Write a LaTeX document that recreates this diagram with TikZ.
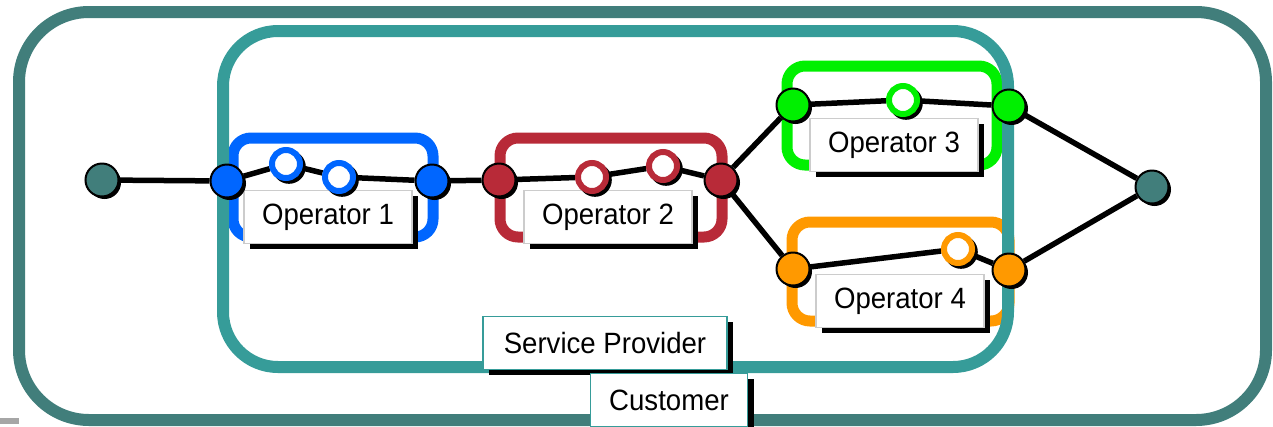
\documentclass[tikz,border=0pt]{standalone}
\usepackage{fontspec}
\setmainfont{Liberation Sans}[FakeStretch=0.94]
\usetikzlibrary{shadows}
\definecolor{custteal}{RGB}{65,126,123}
\definecolor{provteal}{RGB}{54,156,153}
\definecolor{opblue}{RGB}{0,102,255}
\definecolor{opred}{RGB}{184,42,56}
\definecolor{opgreen}{RGB}{0,240,0}
\definecolor{oporange}{RGB}{255,153,0}
\pgfdeclarelayer{boxes}
\pgfdeclarelayer{wires}
\pgfsetlayers{boxes,wires,main}

\begin{document}
\begin{tikzpicture}[x=0.2mm,y=-0.2mm,
	hop/.style={circle,draw=black,line width=0.4mm,fill=#1,minimum size=6.6mm,inner sep=0pt,drop shadow={fill=black,opacity=1,shadow xshift=0.5mm,shadow yshift=-0.5mm}},
	ring/.style={circle,draw=#1,line width=1.2mm,fill=white,minimum size=5.6mm,inner sep=0pt,drop shadow={fill=black,opacity=1,shadow xshift=0.5mm,shadow yshift=-0.5mm,shadow scale=1.2}},
	opbox/.style={draw=#1,line width=2.2mm,rounded corners=3.6mm},
	tag/.style={rectangle,draw=gray!40,line width=0.25mm,fill=white,minimum width=33.6mm,minimum height=10.6mm,inner sep=0pt,font=\fontsize{16.7}{20}\selectfont,drop shadow={fill=black,opacity=1,shadow xshift=1.2mm,shadow yshift=-1mm}},
	wire/.style={draw=black,line width=1.1mm}]
	\useasboundingbox (0,0) rectangle (1273,426);
	\begin{pgfonlayer}{boxes}
	\fill[gray!70] (0,418) rectangle (19,424);
	\draw[custteal,line width=2.4mm,rounded corners=14mm] (19,12) rectangle (1266,420);
	\draw[opbox=opblue] (233,138) rectangle (433,237);
	\draw[opbox=opred] (500,138) rectangle (722,237);
	\draw[opbox=opgreen] (787,66) rectangle (997,165);
	\draw[opbox=oporange] (792,222) rectangle (1009,321);
	\draw[provteal,line width=2.4mm,rounded corners=11mm] (223,31) rectangle (1008,367);
	\end{pgfonlayer}
	
	\node[tag] (lab1) at (328,217) {Operator 1};
	\node[tag] (lab2) at (608,217) {Operator 2};
	\node[tag] (lab3) at (894,145) {Operator 3};
	\node[tag] (lab4) at (900,301) {Operator 4};
	\node[tag,draw=provteal,minimum width=48.8mm] (labsp) at (605,343) {Service Provider};
	\node[tag,draw=provteal,minimum width=31.4mm] (labcu) at (669,400) {Customer};
	
	\node[hop=custteal] (src) at (102,180) {};
	\node[hop=opblue] (a1) at (227,181) {};
	\node[ring=opblue] (a2) at (286,164) {};
	\node[ring=opblue] (a3) at (339,177) {};
	\node[hop=opblue] (a4) at (432,181) {};
	\node[hop=opred] (b1) at (499,180) {};
	\node[ring=opred] (b2) at (592,177) {};
	\node[ring=opred] (b3) at (663,166) {};
	\node[hop=opred] (b4) at (721,180) {};
	\node[hop=opgreen] (c1) at (793,105) {};
	\node[ring=opgreen] (c2) at (903,100) {};
	\node[hop=opgreen] (c3) at (1009,106) {};
	\node[hop=oporange] (d1) at (793,269) {};
	\node[ring=oporange] (d2) at (958,249) {};
	\node[hop=oporange] (d3) at (1009,270) {};
	\node[hop=custteal] (dst) at (1152,187) {};
	
	\begin{pgfonlayer}{wires}
	\draw[wire] (src) -- (a1) -- (a2) -- (a3) -- (a4) -- (b1) -- (b2) -- (b3) -- (b4);
	\draw[wire] (b4) -- (c1) -- (c2) -- (c3) -- (dst);
	\draw[wire] (b4) -- (d1) -- (d2) -- (d3) -- (dst);
	\end{pgfonlayer}
\end{tikzpicture}
\end{document}
